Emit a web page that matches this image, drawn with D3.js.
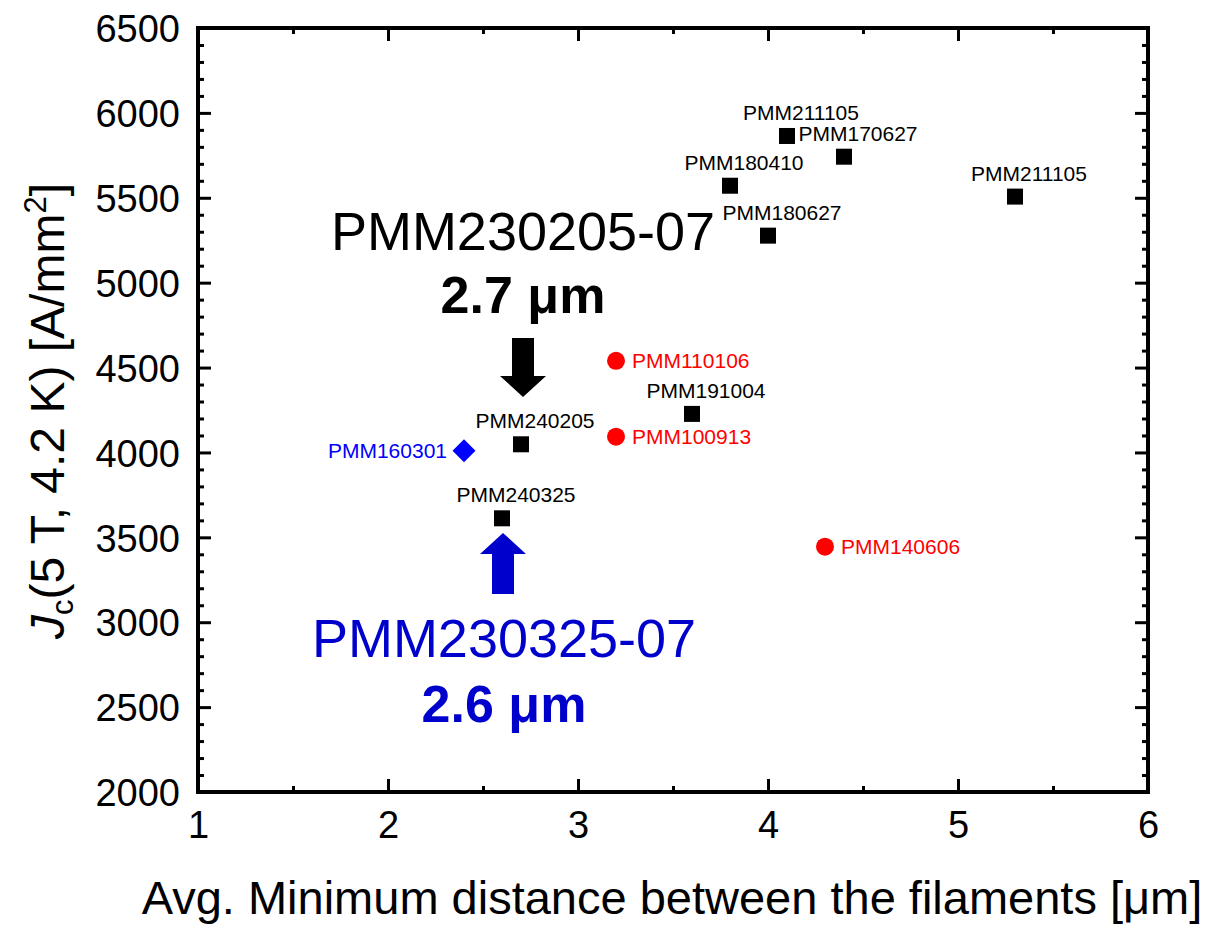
<!DOCTYPE html>
<html>
<head>
<meta charset="utf-8">
<script src="https://cdn.jsdelivr.net/npm/d3@7"></script>
<style>
  body { margin: 0; background: #fff; }
  text { font-family: "Liberation Sans", Arial, sans-serif; }
</style>
</head>
<body>
<script>
// sample data
const sampleNames = ["PMM211105", "PMM170627", "PMM180410", "PMM180627", "PMM211105",
  "PMM191004", "PMM240205", "PMM240325", "PMM110106", "PMM100913", "PMM140606", "PMM160301"];
const minDistance = [4.1, 4.4, 3.8, 4.0, 5.3, 3.6, 2.7, 2.6, 3.2, 3.2, 4.3, 2.4];
const jcValues = [5864, 5742, 5571, 5277, 5507, 4227, 4048, 3612, 4540, 4093, 3445, 4010];
const seriesOf = ["sq", "sq", "sq", "sq", "sq", "sq", "sq", "sq", "dot", "dot", "dot", "dia"];

const xTicks = [1, 2, 3, 4, 5, 6];
const yTicks = [2000, 2500, 3000, 3500, 4000, 4500, 5000, 5500, 6000, 6500];

// highlighted samples with arrows
const highlightNames = ["PMM230205-07", "PMM230325-07"];
const highlightDist = [2.7, 2.6];
const highlightLabels = ["2.7 \u03bcm", "2.6 \u03bcm"];

const width = 1230;
const height = 930;
const plotL = 198, plotR = 1148, plotT = 28, plotB = 792;

const svg = d3.select("body").append("svg")
  .attr("width", width)
  .attr("height", height);

const x = d3.scaleLinear().domain([1, 6]).range([plotL, plotR]);
const y = d3.scaleLinear().domain([2000, 6500]).range([plotB, plotT]);

const style = {
  sq: { color: "#000000", side: "top" },
  dot: { color: "#ff0000", side: "right" },
  dia: { color: "#0000ff", side: "left" }
};

// axes: major + minor ticks on all four sides, pointing inward
const xMinor = d3.range(1.5, 6, 1);
const yMinor = d3.range(2000, 6501, 100).filter(v => v % 500 !== 0);

function addAxis(axisFn, scale, pos, values, size, labels) {
  const a = axisFn(scale).tickValues(values).tickSizeInner(-size).tickSizeOuter(0);
  a.tickFormat(labels ? d3.format("d") : "");
  const g = svg.append("g").attr("transform", pos).call(a);
  g.select(".domain").remove();
  g.selectAll(".tick line").attr("stroke", "#000").attr("stroke-width", 3);
  return g;
}

const xAx = addAxis(d3.axisBottom, x, `translate(0,${plotB})`, xTicks, 13, true);
xAx.call(g => g.selectAll("text")
  .attr("font-size", 38).attr("fill", "#000").attr("y", 0).attr("dy", 46));
addAxis(d3.axisBottom, x, `translate(0,${plotB})`, xMinor, 6, false);
addAxis(d3.axisTop, x, `translate(0,${plotT})`, xTicks, 13, false);
addAxis(d3.axisTop, x, `translate(0,${plotT})`, xMinor, 6, false);

const yAx = addAxis(d3.axisLeft, y, `translate(${plotL},0)`, yTicks, 13, true);
yAx.call(g => g.selectAll("text")
  .attr("font-size", 38).attr("fill", "#000").attr("x", -18).attr("dy", "0.36em"));
addAxis(d3.axisLeft, y, `translate(${plotL},0)`, yMinor, 6, false);
addAxis(d3.axisRight, y, `translate(${plotR},0)`, yTicks, 13, false);
addAxis(d3.axisRight, y, `translate(${plotR},0)`, yMinor, 6, false);

// frame
svg.append("rect")
  .attr("x", plotL).attr("y", plotT)
  .attr("width", plotR - plotL).attr("height", plotB - plotT)
  .attr("fill", "none").attr("stroke", "#000").attr("stroke-width", 4);

// axis titles
svg.append("text")
  .attr("x", 672)
  .attr("y", 914)
  .attr("text-anchor", "middle")
  .attr("font-size", 47)
  .text("Avg. Minimum distance between the filaments [\u03bcm]");

const yTitle = svg.append("text")
  .attr("transform", "translate(64,411) rotate(-90)")
  .attr("text-anchor", "middle")
  .attr("font-size", 48);
yTitle.append("tspan").attr("font-style", "italic").text("J");
yTitle.append("tspan").attr("font-size", 31).attr("dy", 9).text("c");
yTitle.append("tspan").attr("dy", -9).text("(5 T, 4.2 K) [A/mm");
yTitle.append("tspan").attr("font-size", 31).attr("dy", -18).text("2");
yTitle.append("tspan").attr("dy", 18).text("]");

// points
const pts = sampleNames.map((name, i) => ({
  name, dist: minDistance[i], jc: jcValues[i], s: seriesOf[i]
}));

const marks = svg.append("g");
marks.selectAll("rect.sq")
  .data(pts.filter(d => d.s === "sq"))
  .join("rect")
  .attr("class", "sq")
  .attr("x", d => x(d.dist) - 8)
  .attr("y", d => y(d.jc) - 8)
  .attr("width", 16).attr("height", 16)
  .attr("fill", "#000");

marks.selectAll("circle")
  .data(pts.filter(d => d.s === "dot"))
  .join("circle")
  .attr("cx", d => x(d.dist))
  .attr("cy", d => y(d.jc))
  .attr("r", 9)
  .attr("fill", "#ff0000");

marks.selectAll("path.dia")
  .data(pts.filter(d => d.s === "dia"))
  .join("path")
  .attr("class", "dia")
  .attr("d", d => {
    const cx = x(d.dist), cy = y(d.jc), r = 11.5;
    return `M${cx},${cy - r}L${cx + r},${cy}L${cx},${cy + r}L${cx - r},${cy}Z`;
  })
  .attr("fill", "#0000ff");

// point labels
svg.append("g").selectAll("text")
  .data(pts)
  .join("text")
  .attr("font-size", 21)
  .attr("fill", d => style[d.s].color)
  .attr("text-anchor", d => style[d.s].side === "top" ? "middle" : (style[d.s].side === "right" ? "start" : "end"))
  .attr("x", d => {
    const side = style[d.s].side;
    if (side === "top") return x(d.dist) + 14;
    if (side === "right") return x(d.dist) + 16;
    return x(d.dist) - 17;
  })
  .attr("y", d => style[d.s].side === "top" ? y(d.jc) - 16 : y(d.jc) + 7.5)
  .text(d => d.name);

// highlighted samples: big labels and block arrows
const hlColor = ["#000000", "#0000cc"];

svg.append("text")
  .attr("x", x(highlightDist[0]) + 2).attr("y", y(5192))
  .attr("text-anchor", "middle").attr("font-size", 54)
  .attr("fill", hlColor[0]).text(highlightNames[0]);
svg.append("text")
  .attr("x", x(highlightDist[0]) + 2).attr("y", y(4821))
  .attr("text-anchor", "middle").attr("font-size", 52).attr("font-weight", "bold")
  .attr("fill", hlColor[0]).text(highlightLabels[0]);

function blockArrow(cx, yFrom, yTo, color) {
  // yFrom = tail end, yTo = tip
  const sw = 11, hw = 23, hl = 21;
  const dir = yTo > yFrom ? 1 : -1;
  const yb = yTo - dir * hl;
  const p = d3.path();
  p.moveTo(cx - sw, yFrom);
  p.lineTo(cx + sw, yFrom);
  p.lineTo(cx + sw, yb);
  p.lineTo(cx + hw, yb);
  p.lineTo(cx, yTo);
  p.lineTo(cx - hw, yb);
  p.lineTo(cx - sw, yb);
  p.closePath();
  svg.append("path").attr("d", p.toString()).attr("fill", color);
}

blockArrow(x(highlightDist[0]) + 2, y(4674), y(4327), hlColor[0]);
blockArrow(x(highlightDist[1]) + 1, y(3166), y(3526), hlColor[1]);

svg.append("text")
  .attr("x", x(highlightDist[1]) + 2).attr("y", y(2795))
  .attr("text-anchor", "middle").attr("font-size", 54)
  .attr("fill", hlColor[1]).text(highlightNames[1]);
svg.append("text")
  .attr("x", x(highlightDist[1]) + 2).attr("y", y(2412))
  .attr("text-anchor", "middle").attr("font-size", 52).attr("font-weight", "bold")
  .attr("fill", hlColor[1]).text(highlightLabels[1]);
</script>
</body>
</html>
